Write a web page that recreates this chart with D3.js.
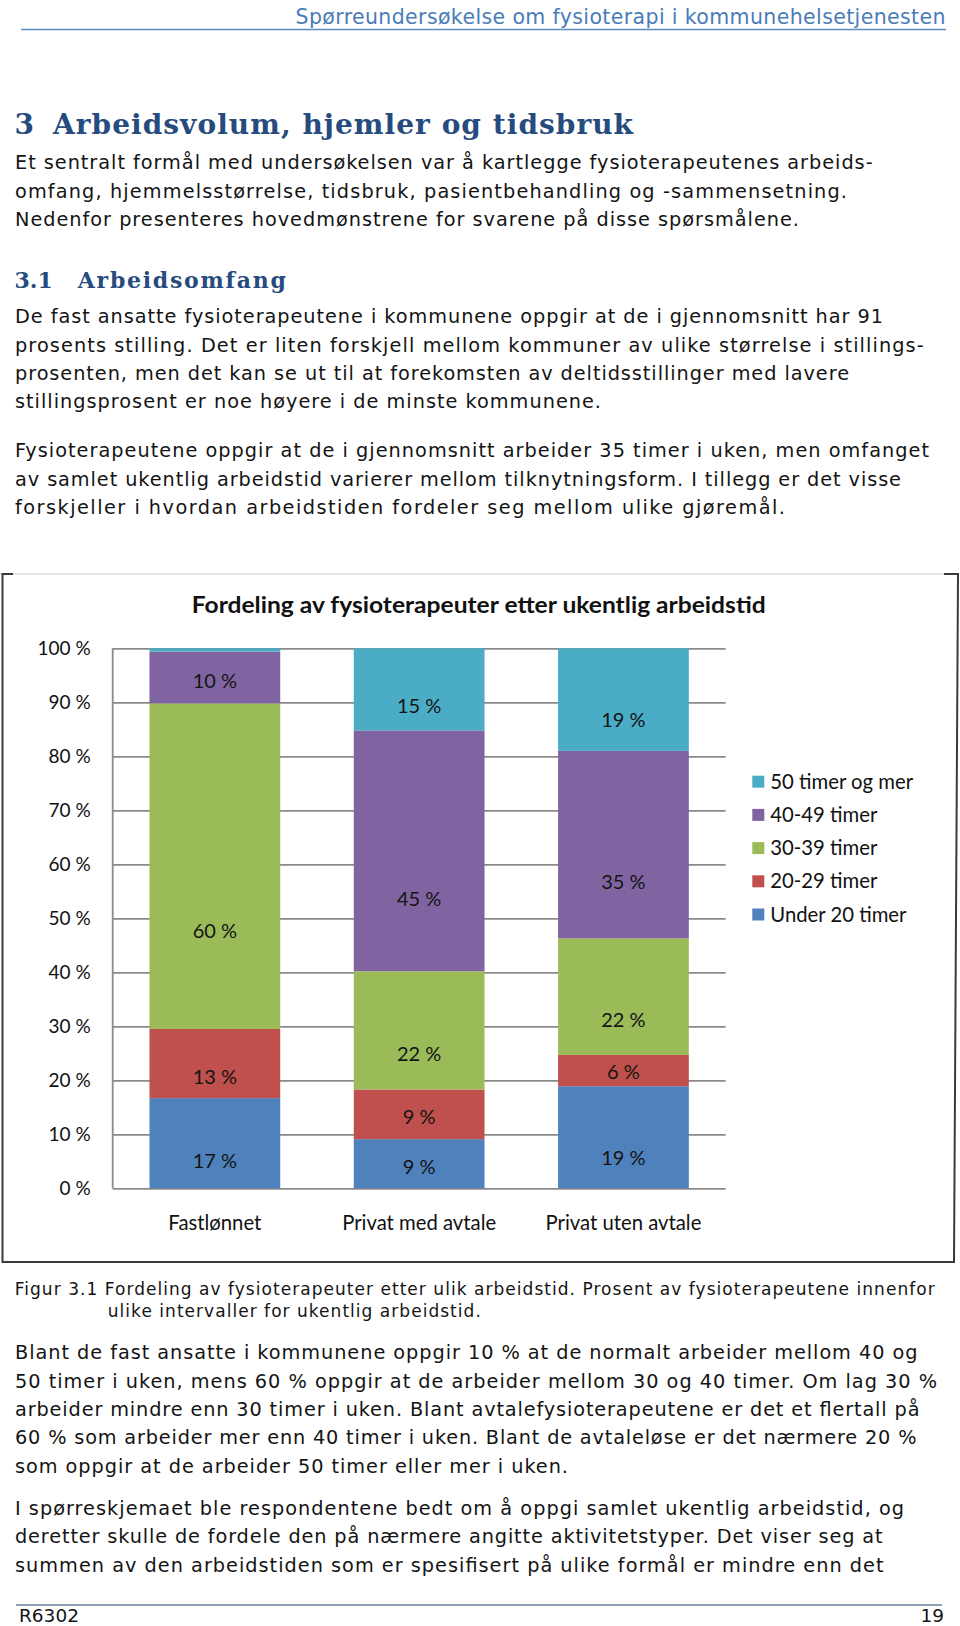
<!DOCTYPE html>
<html><head><meta charset="utf-8">
<script src="https://cdn.jsdelivr.net/npm/d3@7"></script>
<style>html,body{margin:0;padding:0;background:#fff;}svg{display:block;}</style>
</head><body>
<script>
// ---------- chart data ----------
const categories = ["Fastlønnet", "Privat med avtale", "Privat uten avtale"];
const seriesNames = ["Under 20 timer", "20-29 timer", "30-39 timer", "40-49 timer", "50 timer og mer"];
const under20 = [16.7, 9.1, 18.9];
const t20to29 = [12.8, 9.2, 5.8];
const t30to39 = [60.3, 21.9, 21.6];
const t40to49 = [9.6, 44.6, 34.7];
const t50plus = [0.6, 15.2, 19.0];
const yTicks = [0, 10, 20, 30, 40, 50, 60, 70, 80, 90, 100];
const chartTitle = "Fordeling av fysioterapeuter etter ukentlig arbeidstid";

// ---------- page text ----------
const headerText = "Spørreundersøkelse om fysioterapi i kommunehelsetjenesten";
const para1 = [
  "Et sentralt formål med undersøkelsen var å kartlegge fysioterapeutenes arbeids-",
  "omfang, hjemmelsstørrelse, tidsbruk, pasientbehandling og -sammensetning.",
  "Nedenfor presenteres hovedmønstrene for svarene på disse spørsmålene."];
const para2 = [
  "De fast ansatte fysioterapeutene i kommunene oppgir at de i gjennomsnitt har 91",
  "prosents stilling. Det er liten forskjell mellom kommuner av ulike størrelse i stillings-",
  "prosenten, men det kan se ut til at forekomsten av deltidsstillinger med lavere",
  "stillingsprosent er noe høyere i de minste kommunene."];
const para3 = [
  "Fysioterapeutene oppgir at de i gjennomsnitt arbeider 35 timer i uken, men omfanget",
  "av samlet ukentlig arbeidstid varierer mellom tilknytningsform. I tillegg er det visse",
  "forskjeller i hvordan arbeidstiden fordeler seg mellom ulike gjøremål."];
const caption = [
  "Figur 3.1 Fordeling av fysioterapeuter etter ulik arbeidstid. Prosent av fysioterapeutene innenfor",
  "ulike intervaller for ukentlig arbeidstid."];
const para4 = [
  "Blant de fast ansatte i kommunene oppgir 10 % at de normalt arbeider mellom 40 og",
  "50 timer i uken, mens 60 % oppgir at de arbeider mellom 30 og 40 timer. Om lag 30 %",
  "arbeider mindre enn 30 timer i uken. Blant avtalefysioterapeutene er det et flertall på",
  "60 % som arbeider mer enn 40 timer i uken. Blant de avtaleløse er det nærmere 20 %",
  "som oppgir at de arbeider 50 timer eller mer i uken."];
const para5 = [
  "I spørreskjemaet ble respondentene bedt om å oppgi samlet ukentlig arbeidstid, og",
  "deretter skulle de fordele den på nærmere angitte aktivitetstyper. Det viser seg at",
  "summen av den arbeidstiden som er spesifisert på ulike formål er mindre enn det"];

// ---------- layout (positions only) ----------
const W = 960, H = 1626;
const svg = d3.select("body").append("svg").attr("width", W).attr("height", H);
svg.append("rect").attr("width", W).attr("height", H).attr("fill", "#fff");

const bodyFont = "'DejaVu Sans', sans-serif";
const chartFont = "Lato, 'Open Sans', sans-serif";
const serifFont = "'DejaVu Serif', serif";

function lineBlock(lines, x, baselines, ends, size, color) {
  lines.forEach((t, i) => {
    const el = svg.append("text").attr("x", x).attr("y", baselines[i])
      .attr("font-family", bodyFont).attr("font-size", size).attr("fill", color || "#141414")
      .text(t);
    if (ends && ends[i]) el.attr("textLength", ends[i] - x).attr("lengthAdjust", "spacing");
  });
}

// header
svg.append("text").attr("x", 945.5).attr("y", 24).attr("text-anchor", "end")
  .attr("font-family", bodyFont).attr("font-size", 20.5).attr("fill", "#4a7cb9")
  .attr("textLength", 650).attr("lengthAdjust", "spacing").text(headerText);
svg.append("line").attr("x1", 21).attr("x2", 946).attr("y1", 29.5).attr("y2", 29.5)
  .attr("stroke", "#5b8ac4").attr("stroke-width", 1.5);

// headings
const headColor = "#264b7e";
svg.append("text").attr("x", 14.5).attr("y", 133.5).attr("font-family", serifFont)
  .attr("font-weight", "bold").attr("font-size", 28).attr("fill", headColor).text("3");
svg.append("text").attr("x", 53).attr("y", 133.5).attr("font-family", serifFont)
  .attr("font-weight", "bold").attr("font-size", 28).attr("fill", headColor)
  .attr("textLength", 580).attr("lengthAdjust", "spacing").text("Arbeidsvolum, hjemler og tidsbruk");
svg.append("text").attr("x", 14.5).attr("y", 287.5).attr("font-family", serifFont)
  .attr("font-weight", "bold").attr("font-size", 22).attr("fill", headColor).text("3.1");
svg.append("text").attr("x", 77.8).attr("y", 287.5).attr("font-family", serifFont)
  .attr("font-weight", "bold").attr("font-size", 22).attr("fill", headColor)
  .attr("textLength", 208).attr("lengthAdjust", "spacing").text("Arbeidsomfang");

// paragraphs
const bodySize = 19.3;
lineBlock(para1, 15, [169.3, 197.8, 226.3], [872.6, 847, 799], bodySize);
lineBlock(para2, 15, [323.3, 351.7, 380, 408.3], [883, 923.7, 849, 601], bodySize);
lineBlock(para3, 15, [457.3, 485.7, 514], [929, 901, 785], bodySize);

// caption
svg.append("text").attr("x", 14.7).attr("y", 1295).attr("font-family", bodyFont).attr("font-size", 17)
  .attr("fill", "#141414").attr("textLength", 920).attr("lengthAdjust", "spacing").text(caption[0]);
svg.append("text").attr("x", 107.8).attr("y", 1316.7).attr("font-family", bodyFont).attr("font-size", 17)
  .attr("fill", "#141414").attr("textLength", 373).attr("lengthAdjust", "spacing").text(caption[1]);

lineBlock(para4, 15, [1359.3, 1387.7, 1416, 1444.3, 1472.7], [917.5, 937, 919.5, 916.5, 568], bodySize);
lineBlock(para5, 15, [1515, 1543.3, 1571.7], [904, 882.5, 883.5], bodySize);

// footer
svg.append("line").attr("x1", 16).attr("x2", 942).attr("y1", 1605).attr("y2", 1605)
  .attr("stroke", "#8fa2b3").attr("stroke-width", 2);
svg.append("text").attr("x", 19).attr("y", 1622).attr("font-family", bodyFont).attr("font-size", 18.5)
  .attr("fill", "#141414").text("R6302");
svg.append("text").attr("x", 944).attr("y", 1622).attr("text-anchor", "end").attr("font-family", bodyFont)
  .attr("font-size", 18.5).attr("fill", "#141414").text("19");

// ---------- chart frame ----------
svg.append("line").attr("x1", 0).attr("x2", 958).attr("y1", 574).attr("y2", 574)
  .attr("stroke", "#dedede").attr("stroke-width", 1.5);
const frame = svg.append("g").attr("fill", "none").attr("stroke", "#3a3a3a").attr("stroke-width", 2);
frame.append("path").attr("d", "M13,574 H2.5 V1262 H954 L958,574 H944");

// ---------- chart ----------
const plot = { left: 112.7, right: 725.6, top: 648.3, bottom: 1188.3 };
const x = d3.scaleBand().domain(categories).range([plot.left, plot.right])
  .paddingInner(0.36).paddingOuter(0.18);
const y = d3.scaleLinear().domain([0, 100]).range([plot.bottom, plot.top]);
const colors = d3.scaleOrdinal().domain(seriesNames)
  .range(["#4f81bd", "#c0504d", "#9bbb59", "#8064a2", "#4bacc6"]);

const rows = categories.map((c, i) => ({
  cat: c,
  "Under 20 timer": under20[i], "20-29 timer": t20to29[i], "30-39 timer": t30to39[i],
  "40-49 timer": t40to49[i], "50 timer og mer": t50plus[i]
}));
const stacked = d3.stack().keys(seriesNames)(rows);

const chart = svg.append("g");

// gridlines + y axis
const yAxis = d3.axisLeft(y).tickValues(yTicks).tickSize(-(plot.right - plot.left))
  .tickFormat(d => d + " %").tickPadding(22);
const ga = chart.append("g").attr("transform", `translate(${plot.left},0)`).call(yAxis);
ga.select(".domain").attr("stroke", "#8a8a8a").attr("stroke-width", 1.8)
  .attr("d", `M0,${plot.bottom}V${plot.top}`);
ga.selectAll(".tick line").attr("stroke", "#8a8a8a").attr("stroke-width", 1.8);
ga.selectAll(".tick text").attr("font-family", chartFont).attr("font-size", 19).attr("fill", "#111");

// bars
const layers = chart.append("g").selectAll("g").data(stacked).join("g")
  .attr("fill", d => colors(d.key));
layers.selectAll("rect").data(d => d).join("rect")
  .attr("x", d => x(d.data.cat)).attr("width", x.bandwidth())
  .attr("y", d => y(d[1])).attr("height", d => y(d[0]) - y(d[1]));

// data labels
const labels = [];
stacked.forEach(s => s.forEach(d => {
  const v = d[1] - d[0];
  if (v < 2) return;
  const top = y(d[1]), h = y(d[0]) - y(d[1]);
  const off = h > 55 ? 0.2 * h : 0.06 * h;
  labels.push({ x: x(d.data.cat) + x.bandwidth() / 2, y: top + h / 2 + off, t: Math.round(v) + " %" });
}));
chart.append("g").selectAll("text").data(labels).join("text")
  .attr("x", d => d.x).attr("y", d => d.y).attr("dy", "0.35em").attr("text-anchor", "middle")
  .attr("font-family", chartFont).attr("font-size", 20).attr("fill", "#141414").text(d => d.t);

// category labels
const xAxis = d3.axisBottom(x).tickSize(0).tickPadding(0);
const gx = chart.append("g").attr("transform", `translate(0,1222.7)`).call(xAxis);
gx.select(".domain").remove();
gx.selectAll(".tick text").attr("font-family", chartFont).attr("font-size", 20.3).attr("fill", "#111")
  .attr("dy", "0.35em");

// title
chart.append("text").attr("x", 191.7).attr("y", 613.3).attr("font-family", chartFont)
  .attr("font-weight", "bold").attr("font-size", 22).attr("fill", "#111")
  .attr("textLength", 574).attr("lengthAdjust", "spacingAndGlyphs").text(chartTitle);

// legend
const legendOrder = seriesNames.slice().reverse();
const lg = chart.append("g").attr("transform", "translate(752.3,781.7)");
const li = lg.selectAll("g").data(legendOrder).join("g")
  .attr("transform", (d, i) => `translate(0,${i * 33.2})`);
li.append("rect").attr("x", 0).attr("y", -6).attr("width", 12).attr("height", 12).attr("fill", d => colors(d));
li.append("text").attr("x", 18).attr("y", 0).attr("dy", "0.35em").attr("font-family", chartFont)
  .attr("font-size", 20.3).attr("fill", "#111").text(d => d);
</script>
</body></html>
